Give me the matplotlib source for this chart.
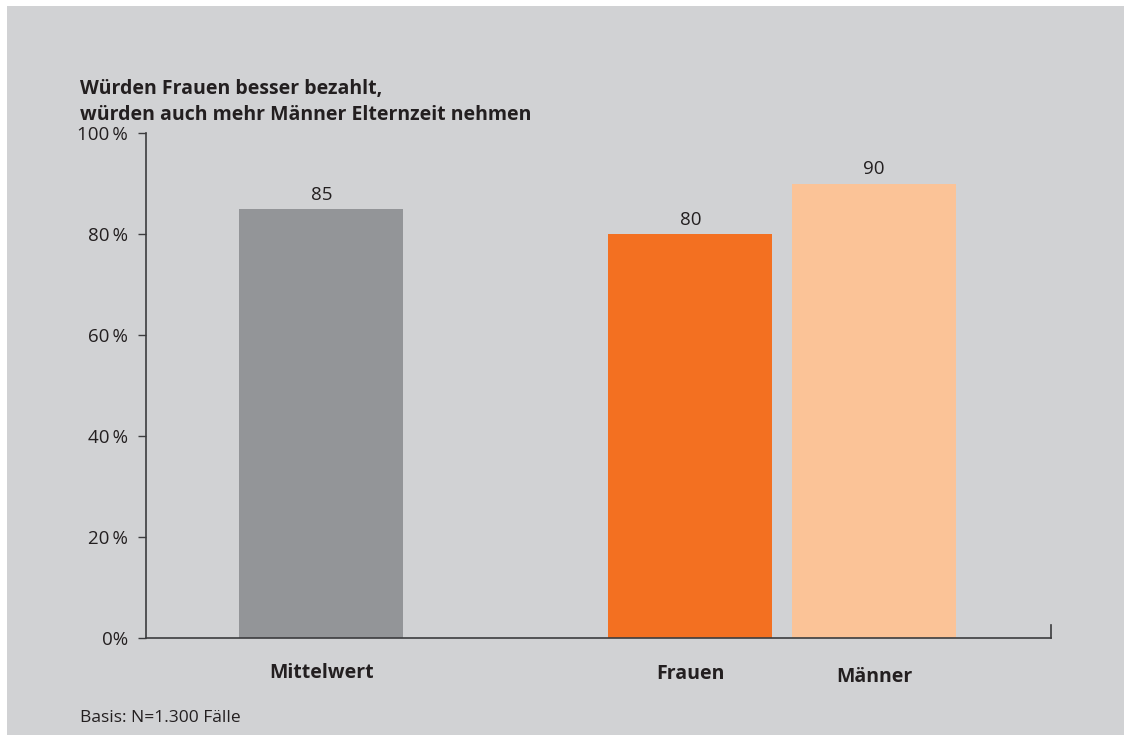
import matplotlib.pyplot as plt
from matplotlib.patches import Rectangle

plt.rcParams['font.family'] = ['Open Sans', 'DejaVu Sans']

categories = ['Mittelwert', 'Frauen', 'Männer']
values = [85, 80, 90]
positions = [1.07, 3.32, 4.44]
colors = ['#939598', '#f37021', '#fbc397']
yticks = [0, 20, 40, 60, 80, 100]
ytick_labels = ['0%', '20\u2009%', '40\u2009%', '60\u2009%', '80\u2009%', '100\u2009%']

bg = '#d1d2d4'
axc = '#3c3c3e'
txt = '#231f20'

fig = plt.figure(figsize=(11.24, 7.35), dpi=100)
fig.patch.set_facecolor('white')
fig.patches.append(Rectangle((7/1124, 0), 1, 1 - 6/735, transform=fig.transFigure,
                             facecolor=bg, edgecolor='none', zorder=-10))

ax = fig.add_axes([146/1124, 1 - 638/735, 905/1124, 505/735])
ax.set_facecolor('none')

bars = ax.bar(positions, values, width=1.0, color=colors, zorder=2)
for b, v in zip(bars, values):
    ax.text(b.get_x() + b.get_width()/2, v + 1.0, str(v), ha='center', va='bottom',
            fontsize=13.5, color=txt)

ax.set_xlim(0, 905/164)
ax.set_ylim(0, 100)
ax.set_yticks(yticks)
ax.set_yticklabels(ytick_labels, fontsize=13.5, color=txt)
ax.tick_params(axis='y', length=6, width=1, color=axc, pad=7)
ax.set_xticks([])

ax.spines['top'].set_visible(False)
for s in ['left', 'bottom', 'right']:
    ax.spines[s].set_color(axc)
    ax.spines[s].set_linewidth(1.2)
ax.spines['right'].set_bounds(0, 2.6)

label_offsets = [-0.069, -0.071, -0.077]
for p, c, off in zip(positions, categories, label_offsets):
    ax.text(p, off, c, transform=ax.get_xaxis_transform(), ha='center', va='center',
            fontsize=14, fontweight='bold', color=txt)

fig.text(80/1124, 1 - 102/735, 'Würden Frauen besser bezahlt,\nwürden auch mehr Männer Elternzeit nehmen',
         ha='left', va='center', fontsize=14, fontweight='bold', color=txt, linespacing=1.42)
fig.text(80/1124, 1 - 718/735, 'Basis: N=1.300 Fälle', ha='left', va='center',
         fontsize=12.5, color=txt)

fig.savefig('out.png', dpi=100, facecolor=fig.get_facecolor())
